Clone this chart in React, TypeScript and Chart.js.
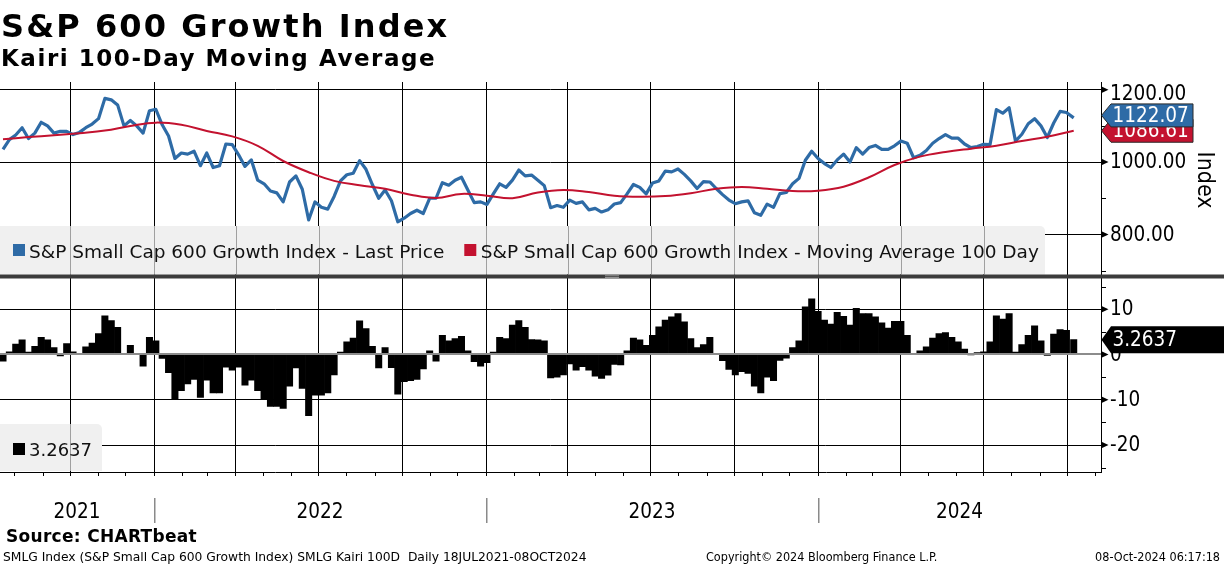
import React, { useEffect, useRef } from 'react';
import { Chart, registerables } from 'chart.js';

Chart.register(...registerables);

const FONT = '"DejaVu Sans Condensed", "DejaVu Sans", sans-serif';
const WIDE = '"DejaVu Sans", "DejaVu Sans Condensed", sans-serif';
const BLUE = '#2e6ba6';
const RED = '#c3122f';

// ---------- data ----------
const WINDOW_START = '2021-07-18';
const FIRST_WEEK = '2021-07-19';
const LAST_DAY = '2024-10-08';

// S&P Small Cap 600 Growth Index - last price, weekly readings (last = 08 Oct 2024)
const priceWeekly = [
  1035, 1062, 1075, 1095, 1065, 1080, 1110, 1100, 1080, 1085,
  1085, 1076, 1082, 1095, 1105, 1120, 1176, 1172, 1158, 1100,
  1115, 1100, 1080, 1142, 1146, 1103, 1072, 1010, 1025, 1022,
  1030, 990, 1025, 985, 990, 1050, 1048, 1020, 988, 1006,
  950, 940, 920, 915, 890, 945, 962, 925, 840, 890,
  875, 870, 905, 948, 965, 969, 1004, 980, 938, 900,
  923, 893, 835, 845, 858, 867, 858, 900, 900, 943,
  936, 950, 958, 923, 888, 890, 883, 912, 940, 930,
  950, 978, 962, 964, 950, 935, 874, 880, 875, 895,
  886, 890, 868, 872, 862, 868, 884, 888, 912, 938,
  930, 912, 942, 948, 975, 973, 981, 966, 948, 927,
  946, 945, 927, 910, 895, 885, 890, 893, 860, 853,
  884, 875, 913, 916, 940, 955, 1005, 1030, 1010, 996,
  985, 1006, 1022, 1000, 1040, 1022, 1040, 1046, 1035, 1035,
  1045, 1058, 1052, 1012, 1019, 1032, 1052, 1065, 1076, 1066,
  1066, 1050, 1040, 1043, 1049, 1048, 1145, 1135, 1150, 1058,
  1077, 1106, 1120, 1100, 1068, 1108, 1140, 1137, 1122.07,
];

// 100-day moving average, read every 4 weeks (last = 08 Oct 2024)
const ma4Weekly = [
  1063, 1069, 1074, 1080, 1087, 1100, 1109, 1103, 1086, 1071,
  1045, 1003, 972, 948, 936, 926, 910, 901, 912, 907,
  900, 916, 923, 917, 907, 904, 906, 914, 926, 931,
  926, 920, 921, 932, 958, 992, 1015, 1028, 1037, 1045,
  1058, 1070, 1086.61,
];

// Kairi 100D (% distance from the 100-day MA), weekly readings (last = 08 Oct 2024)
const kairiWeekly = [
  -1.5, 0.6, 2.3, 3.2, 0.5, 1.8, 3.8, 3.2, 1.5, -0.3,
  2.4, 0.6, 0.2, 1.7, 2.5, 4.6, 8.5, 7.5, 6.0, 0.2,
  2.0, 0.2, -2.6, 3.8, 3.0, -0.9, -4.0, -10.0, -8.0, -6.5,
  -5.5, -9.5, -5.7, -8.5, -8.5, -2.8, -3.5, -2.8, -6.8, -5.7,
  -8.0, -9.8, -11.5, -11.5, -11.9, -7.0, -3.0, -7.5, -13.5, -9.0,
  -9.0, -8.5, -4.5, 0.5, 2.8, 3.6, 7.4, 5.7, 1.8, -3.0,
  1.5, -2.9, -8.8, -6.0, -5.8, -5.5, -3.2, 0.8, -1.5, 4.2,
  3.0, 3.5, 4.0, 0.8, -1.6, -2.6, -1.8, 0.5, 3.8, 3.5,
  6.5, 7.5, 6.0, 3.3, 3.2, 3.0, -5.2, -5.0, -4.5, -2.1,
  -3.5, -2.7, -3.5, -4.8, -5.3, -4.6, -2.2, -2.3, 0.8, 3.6,
  3.2, 2.0, 4.2, 6.1, 7.6, 8.3, 9.0, 7.2, 3.5, 1.5,
  2.2, 3.8, 0.2, -1.4, -3.3, -4.5, -3.8, -4.2, -7.0, -8.5,
  -5.0, -5.8, -1.3, -0.8, 1.5, 3.0, 10.5, 12.3, 9.5, 7.6,
  6.7, 9.3, 8.4, 6.5, 10.2, 9.0, 9.0, 8.3, 7.0, 5.8,
  7.3, 7.3, 4.2, 0.0, 0.8, 1.7, 3.6, 4.6, 4.8, 3.8,
  2.8, 1.2, -0.1, 0.4, 0.6, 2.8, 8.5, 7.8, 9.0, 0.5,
  2.2, 4.2, 6.3, 3.0, -0.2, 4.5, 5.5, 5.3, 3.2637,
];

const priceMajorTicks = [800, 1000, 1200];
const priceMinorTicks = [700, 900, 1100];
const kairiMajorTicks = [-20, -10, 0, 10];
const kairiMinorTicks = [-25, -15, -5, 5, 15];
const yearLabels = ['2021', '2022', '2023', '2024'];
const yearStarts = ['2021-01-01', '2022-01-01', '2023-01-01', '2024-01-01', '2025-01-01'];
const legendLabels = [
  'S&P Small Cap 600 Growth Index - Last Price',
  'S&P Small Cap 600 Growth Index - Moving Average 100 Day',
];

// ---------- helpers ----------
const DAY_MS = 86400000;
const dayNum = (iso: string) => Date.parse(iso + 'T00:00:00Z') / DAY_MS;
const seriesDays = (n: number, stepDays: number) =>
  Array.from({ length: n }, (_, i) => (i === n - 1 ? dayNum(LAST_DAY) : dayNum(FIRST_WEEK) + stepDays * i));

const xMin = dayNum(WINDOW_START) - 2.3;
const xMax = dayNum(WINDOW_START) + 1208.0;

const monthTicks: number[] = [];
for (let yr = 2021; yr <= 2024; yr++) {
  for (let m = 0; m < 12; m++) {
    const v = Date.UTC(yr, m, 1) / DAY_MS;
    if (v > xMin && v < xMax) monthTicks.push(v);
  }
}
const isQuarter = (v: number) => new Date(v * DAY_MS).getUTCMonth() % 3 === 0;
const quarterTicks = monthTicks.filter(isQuarter);

const priceDays = seriesDays(priceWeekly.length, 7);
const maDays = seriesDays(ma4Weekly.length, 28);
const kairiDays = seriesDays(kairiWeekly.length, 7);

const pricePoints = priceWeekly.map((v, i) => ({ x: priceDays[i], y: v }));
const maPoints = ma4Weekly.map((v, i) => ({ x: maDays[i], y: v }));
const kairiPoints = kairiWeekly.map((v, i) => ({ x: kairiDays[i], y: v }));

const priceLast = priceWeekly[priceWeekly.length - 1];
const maLast = ma4Weekly[ma4Weekly.length - 1];
const kairiLast = kairiWeekly[kairiWeekly.length - 1];

const decorPlugin = {
  id: 'decor',
  afterDatasetsDraw(chart: any) {
    const { ctx, chartArea: ca, scales } = chart;
    const xs = scales.x;
    const ks = scales.y2;
    ctx.save();
    // zero line of the Kairi panel
    const z = Math.round(ks.getPixelForValue(0));
    ctx.strokeStyle = '#8c8c8c';
    ctx.lineWidth = 2;
    ctx.beginPath();
    ctx.moveTo(ca.left, z);
    ctx.lineTo(ca.right, z);
    ctx.stroke();

    const qx = quarterTicks.map((v) => Math.round(xs.getPixelForValue(v)) + 0.5);
    const box = (x0: number, y0: number, x1: number, y1: number) => {
      ctx.fillStyle = '#f0f0f0';
      ctx.beginPath();
      if ((ctx as any).roundRect) (ctx as any).roundRect(x0, y0, x1 - x0, y1 - y0, [0, 5, 0, 0]);
      else ctx.rect(x0, y0, x1 - x0, y1 - y0);
      ctx.fill();
      ctx.strokeStyle = '#a0a0a0';
      ctx.lineWidth = 1;
      qx.forEach((x) => {
        if (x > x0 && x < x1) {
          ctx.beginPath();
          ctx.moveTo(x, y0);
          ctx.lineTo(x, y1);
          ctx.stroke();
        }
      });
    };
    box(0, 226, 1045, 274.5);
    box(0, 424, 102, 471);

    ctx.font = `18.5px ${WIDE}`;
    ctx.textBaseline = 'alphabetic';
    ctx.textAlign = 'left';
    ctx.fillStyle = BLUE;
    ctx.fillRect(13, 244, 12, 12);
    ctx.fillStyle = '#111';
    ctx.fillText(legendLabels[0], 29, 257.5);
    const x2 = 29 + ctx.measureText(legendLabels[0]).width + 20;
    ctx.fillStyle = RED;
    ctx.fillRect(x2, 244, 12, 12);
    ctx.fillStyle = '#111';
    ctx.fillText(legendLabels[1], x2 + 16.5, 257.5);

    ctx.fillStyle = '#000';
    ctx.fillRect(13, 443, 12, 12);
    ctx.fillStyle = '#111';
    ctx.font = `18px ${WIDE}`;
    ctx.fillText(kairiLast.toFixed(4), 29, 456);
    ctx.restore();
  },
  afterDraw(chart: any) {
    const { ctx, chartArea: ca, scales } = chart;
    const xs = scales.x;
    const ys = scales.y;
    const ks = scales.y2;
    const ax = ca.right;
    ctx.save();

    // panel separator
    ctx.fillStyle = '#3c3c3c';
    ctx.fillRect(0, 274.5, 1224, 4);
    ctx.fillStyle = '#a8a8a8';
    ctx.fillRect(605, 275.4, 14, 0.8);
    ctx.fillRect(605, 277.0, 14, 0.8);

    // axis tick markers
    ctx.fillStyle = '#000';
    const tri = (py: number) => {
      ctx.beginPath();
      ctx.moveTo(ax, py - 3.5);
      ctx.lineTo(ax + 7.5, py);
      ctx.lineTo(ax, py + 3.5);
      ctx.closePath();
      ctx.fill();
    };
    const minor = (py: number) => ctx.fillRect(ax, Math.round(py), 5, 1);
    priceMajorTicks.forEach((v) => tri(ys.getPixelForValue(v)));
    priceMinorTicks.forEach((v) => minor(ys.getPixelForValue(v)));
    kairiMajorTicks.forEach((v) => tri(ks.getPixelForValue(v)));
    kairiMinorTicks.forEach((v) => minor(ks.getPixelForValue(v)));

    // axis labels
    ctx.font = `20.5px ${FONT}`;
    ctx.textAlign = 'left';
    ctx.textBaseline = 'middle';
    priceMajorTicks.forEach((v) => {
      const py = Math.max(ys.getPixelForValue(v), ys.top + 12);
      ctx.fillText(v.toFixed(2), ax + 9, py + 1);
    });
    kairiMajorTicks.forEach((v) => {
      const py = ks.getPixelForValue(v);
      ctx.fillText(String(v), ax + 9, py + 1);
    });

    // axis title
    ctx.save();
    ctx.translate(1198, 180);
    ctx.rotate(Math.PI / 2);
    ctx.font = `23px ${FONT}`;
    ctx.textAlign = 'center';
    ctx.textBaseline = 'alphabetic';
    ctx.fillText('Index', 0, 0);
    ctx.restore();

    // last value tags
    const tag = (yc: number, h: number, xEnd: number, fill: string, stroke: string | null, text: string) => {
      ctx.beginPath();
      ctx.moveTo(ax + 0.5, yc);
      ctx.lineTo(ax + 10, yc - h / 2);
      ctx.lineTo(xEnd, yc - h / 2);
      ctx.lineTo(xEnd, yc + h / 2);
      ctx.lineTo(ax + 10, yc + h / 2);
      ctx.closePath();
      ctx.fillStyle = fill;
      ctx.fill();
      if (stroke) {
        ctx.strokeStyle = stroke;
        ctx.lineWidth = 1;
        ctx.stroke();
      }
      ctx.fillStyle = '#fff';
      ctx.font = `20.5px ${FONT}`;
      ctx.textAlign = 'left';
      ctx.textBaseline = 'middle';
      ctx.fillText(text, ax + 11.5, yc + 1);
    };
    tag(ys.getPixelForValue(maLast), 23, 1193, RED, '#2a2a2a', maLast.toFixed(2));
    tag(ys.getPixelForValue(priceLast) - 2.5, 23, 1193, BLUE, '#2a2a2a', priceLast.toFixed(2));
    tag(ks.getPixelForValue(kairiLast), 27, 1226, '#000', null, kairiLast.toFixed(4));

    // year labels and separators
    ctx.fillStyle = '#000';
    ctx.font = `20.5px ${FONT}`;
    ctx.textAlign = 'center';
    ctx.textBaseline = 'alphabetic';
    yearLabels.forEach((lab, i) => {
      const a = Math.max(ca.left, xs.getPixelForValue(dayNum(yearStarts[i])));
      const b = Math.min(ca.right, xs.getPixelForValue(dayNum(yearStarts[i + 1])));
      ctx.fillText(lab, (a + b) / 2, 518);
      if (i > 0) {
        ctx.fillStyle = '#8a8a8a';
        ctx.fillRect(Math.round(a), 498, 1.5, 25);
        ctx.fillStyle = '#000';
      }
    });
    ctx.restore();
  },
};

export default function App() {
  const ref = useRef<HTMLCanvasElement>(null);
  useEffect(() => {
    if (!ref.current) return;
    const chart = new Chart(ref.current, {
      type: 'line',
      data: {
        datasets: [
          {
            type: 'line',
            label: legendLabels[1],
            data: maPoints,
            borderColor: RED,
            borderWidth: 2,
            pointRadius: 0,
            tension: 0.4,
            yAxisID: 'y',
            order: 0,
          },
          {
            type: 'line',
            label: legendLabels[0],
            data: pricePoints,
            borderColor: BLUE,
            borderWidth: 3.2,
            pointRadius: 0,
            tension: 0,
            borderJoinStyle: 'round',
            yAxisID: 'y',
            order: 1,
          },
          {
            type: 'bar',
            label: 'Kairi 100D',
            data: kairiPoints,
            backgroundColor: '#000',
            borderWidth: 0,
            barPercentage: 1,
            categoryPercentage: 1,
            yAxisID: 'y2',
            order: 2,
          },
        ],
      } as any,
      options: {
        responsive: false,
        animation: false,
        layout: { padding: { top: 82, left: 0, right: 0, bottom: 0 } },
        plugins: { legend: { display: false }, tooltip: { enabled: false } },
        scales: {
          x: {
            type: 'linear',
            position: 'bottom',
            offset: false,
            min: xMin,
            max: xMax,
            afterBuildTicks: (s: any) => {
              s.ticks = monthTicks.map((v) => ({ value: v }));
            },
            afterFit: (s: any) => {
              s.height = 94;
            },
            ticks: { display: false },
            grid: {
              offset: false,
              color: (c: any) => (c.tick && isQuarter(c.tick.value) ? '#000' : 'rgba(0,0,0,0)'),
              tickColor: '#000',
              tickLength: 4,
              lineWidth: 1,
              drawTicks: true,
            },
            border: { display: true, color: '#000', width: 1 },
          },
          y: {
            type: 'linear',
            position: 'right',
            stack: 'panels',
            stackWeight: 194.5,
            weight: 0,
            min: 683.8,
            max: 1221.3,
            afterBuildTicks: (s: any) => {
              s.ticks = [...priceMinorTicks, ...priceMajorTicks].sort((a, b) => a - b).map((v) => ({ value: v }));
            },
            afterFit: (s: any) => {
              s.width = 123;
            },
            ticks: { display: false },
            grid: {
              color: (c: any) => (c.tick && priceMajorTicks.includes(c.tick.value) ? '#000' : 'rgba(0,0,0,0)'),
              drawTicks: false,
              lineWidth: 1,
            },
            border: { display: true, color: '#000', width: 1 },
          },
          y2: {
            type: 'linear',
            position: 'right',
            stack: 'panels',
            stackWeight: 195.5,
            weight: 1,
            min: -25.96,
            max: 17.21,
            afterBuildTicks: (s: any) => {
              s.ticks = [...kairiMinorTicks, ...kairiMajorTicks].sort((a, b) => a - b).map((v) => ({ value: v }));
            },
            afterFit: (s: any) => {
              s.width = 123;
            },
            ticks: { display: false },
            grid: {
              color: (c: any) =>
                c.tick && kairiMajorTicks.includes(c.tick.value) && c.tick.value !== 0 ? '#000' : 'rgba(0,0,0,0)',
              drawTicks: false,
              lineWidth: 1,
            },
            border: { display: true, color: '#000', width: 1 },
          },
        },
      } as any,
      plugins: [decorPlugin],
    });
    return () => chart.destroy();
  }, []);

  const text = (extra: React.CSSProperties): React.CSSProperties => ({
    position: 'absolute',
    whiteSpace: 'nowrap',
    lineHeight: 1,
    color: '#000',
    fontFamily: WIDE,
    pointerEvents: 'none',
    ...extra,
  });

  return (
    <div style={{ position: 'absolute', left: 0, top: 0, width: 1224, height: 566, background: '#fff', overflow: 'hidden' }}>
      <canvas ref={ref} width={1224} height={566} style={{ position: 'absolute', left: 0, top: 0, width: 1224, height: 566 }} />
      <div style={text({ left: 1, top: 9.6, fontSize: 32, fontWeight: 'bold', letterSpacing: 2.1 })}>{'S&P 600 Growth Index'}</div>
      <div style={text({ left: 1, top: 47.2, fontSize: 23, fontWeight: 'bold', letterSpacing: 1.55 })}>{'Kairi 100-Day Moving Average'}</div>
      <div style={text({ left: 6, top: 528.3, fontSize: 17, fontWeight: 'bold', letterSpacing: 0.3 })}>{'Source: CHARTbeat'}</div>
      <div style={text({ left: 3, top: 551.2, fontSize: 12.3 })}>
        {'SMLG Index (S&P Small Cap 600 Growth Index) SMLG Kairi 100D\u00a0\u00a0Daily 18JUL2021-08OCT2024'}
      </div>
      <div style={text({ left: 706, top: 551.2, fontSize: 12.5, fontFamily: FONT })}>{'Copyright\u00a9 2024 Bloomberg Finance L.P.'}</div>
      <div style={text({ right: 4, top: 551.2, fontSize: 12.5, fontFamily: FONT })}>{'08-Oct-2024 06:17:18'}</div>
    </div>
  );
}
